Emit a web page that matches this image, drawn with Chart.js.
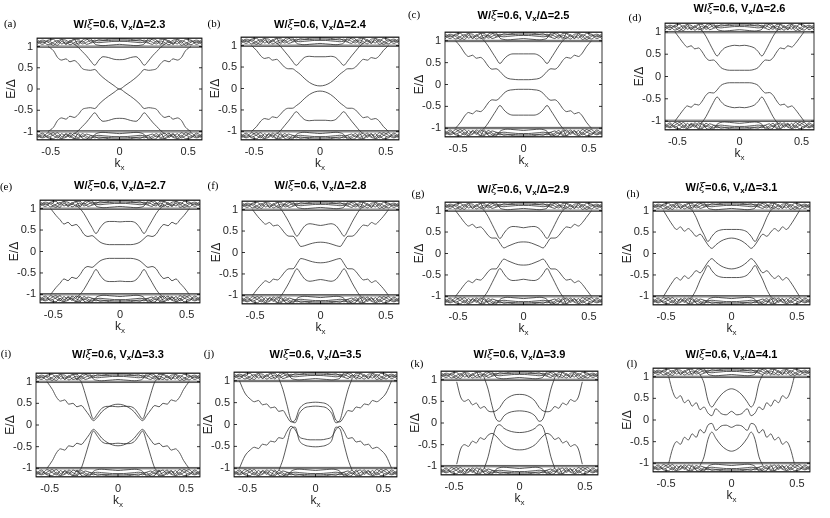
<!DOCTYPE html>
<html>
<head>
<meta charset="utf-8">
<script src="https://cdn.jsdelivr.net/npm/chart.js@4.4.1/dist/chart.umd.min.js"></script>
<style>
  body { margin: 0; background: #fff; width: 830px; height: 518px; overflow: hidden; position: relative; }
  canvas { position: absolute; }
</style>
</head>
<body>
<script>
const _ = null;

// momentum grid shared by all panels
const kVals = [-0.6,-0.56,-0.52,-0.48,-0.45,-0.42,-0.39,-0.36,-0.33,-0.3,-0.27,-0.24,-0.21,-0.18,-0.15,-0.12,-0.08,-0.04,
  0,0.04,0.08,0.12,0.15,0.18,0.21,0.24,0.27,0.3,0.33,0.36,0.39,0.42,0.45,0.48,0.52,0.56,0.6];
const kEdge = [-0.6, 0.6];
const xTicks = [-0.5, 0, 0.5];
const yTicks = [-1, -0.5, 0, 0.5, 1];

// bulk continuum (same look in every panel)
const flatUp1 = [0.98, 0.98];
const flatUp2 = [1.01, 1.01];
const flatUp3 = [1.19, 1.19];
const flatLo1 = [-0.98, -0.98];
const flatLo2 = [-1.01, -1.01];
const flatLo3 = [-1.19, -1.19];
const bulkU1 = [1.05,1.12,1.04,1.1,1.14,1.06,1.11,1.04,1.09,1.13,1.06,1.1,1.14,1.12,1.16,1.15,1.17,1.18,1.18,1.18,1.17,1.15,1.16,1.12,1.14,1.1,1.06,1.13,1.09,1.04,1.11,1.06,1.14,1.1,1.04,1.12,1.05];
const bulkU2 = [1.12,1.05,1.13,1.07,1.03,1.12,1.06,1.14,1.05,1.08,1.13,1.05,1.08,1.1,1.09,1.1,1.11,1.12,1.12,1.12,1.11,1.1,1.09,1.1,1.08,1.05,1.13,1.08,1.05,1.14,1.06,1.12,1.03,1.07,1.13,1.05,1.12];
const bulkU3 = [1.16,1.09,1.15,1.17,1.08,1.16,1.15,1.09,1.16,1.17,1.1,1.16,1.18,1.06,1.03,1.02,1.03,1.04,1.05,1.04,1.03,1.02,1.03,1.06,1.18,1.16,1.1,1.17,1.16,1.09,1.15,1.16,1.08,1.17,1.15,1.09,1.16];
const bulkU4 = [1.09,1.15,1.1,1.03,1.12,1.17,1.05,1.12,1.17,1.04,1.15,1.18,1.1,1.15,1.13,1.14,1.14,1.15,1.15,1.15,1.14,1.14,1.13,1.15,1.1,1.18,1.15,1.04,1.17,1.12,1.05,1.17,1.12,1.03,1.1,1.15,1.09];
const bulkL1 = [-1.06,-1.13,-1.03,-1.1,-1.15,-1.05,-1.12,-1.04,-1.1,-1.14,-1.05,-1.11,-1.15,-1.12,-1.16,-1.15,-1.17,-1.18,-1.18,-1.18,-1.17,-1.15,-1.16,-1.12,-1.15,-1.11,-1.05,-1.14,-1.1,-1.04,-1.12,-1.05,-1.15,-1.1,-1.03,-1.13,-1.06];
const bulkL2 = [-1.12,-1.04,-1.13,-1.08,-1.03,-1.12,-1.07,-1.14,-1.04,-1.08,-1.13,-1.06,-1.09,-1.1,-1.09,-1.1,-1.11,-1.12,-1.12,-1.12,-1.11,-1.1,-1.09,-1.1,-1.09,-1.06,-1.13,-1.08,-1.04,-1.14,-1.07,-1.12,-1.03,-1.08,-1.13,-1.04,-1.12];
const bulkL3 = [-1.16,-1.08,-1.15,-1.17,-1.09,-1.16,-1.14,-1.08,-1.16,-1.17,-1.1,-1.15,-1.18,-1.07,-1.03,-1.02,-1.03,-1.04,-1.05,-1.04,-1.03,-1.02,-1.03,-1.07,-1.18,-1.15,-1.1,-1.17,-1.16,-1.08,-1.14,-1.16,-1.09,-1.17,-1.15,-1.08,-1.16];
const bulkL4 = [-1.1,-1.15,-1.09,-1.03,-1.13,-1.17,-1.05,-1.11,-1.17,-1.04,-1.16,-1.18,-1.1,-1.15,-1.13,-1.14,-1.14,-1.15,-1.15,-1.15,-1.14,-1.14,-1.13,-1.15,-1.1,-1.18,-1.16,-1.04,-1.17,-1.11,-1.05,-1.17,-1.13,-1.03,-1.09,-1.15,-1.1];

// in-gap bands, panel by panel
const aUp1 = [_,_,1.0,0.9,0.74,0.68,0.71,0.64,0.67,0.6,0.48,0.45,0.44,0.46,0.36,0.27,0.17,0.08,0,0.08,0.17,0.27,0.36,0.46,0.44,0.45,0.48,0.6,0.67,0.64,0.71,0.68,0.74,0.9,1.0,_,_];
const aUp2 = [_,_,_,_,_,_,_,_,1.06,0.98,0.88,0.78,0.66,0.56,0.68,0.76,0.74,0.7,0.69,0.7,0.74,0.76,0.68,0.56,0.66,0.78,0.88,0.98,1.06,_,_,_,_,_,_,_,_];
const aLo1 = [_,_,-1.0,-0.9,-0.74,-0.68,-0.71,-0.64,-0.67,-0.6,-0.48,-0.45,-0.44,-0.46,-0.36,-0.27,-0.17,-0.08,0,-0.08,-0.17,-0.27,-0.36,-0.46,-0.44,-0.45,-0.48,-0.6,-0.67,-0.64,-0.71,-0.68,-0.74,-0.9,-1.0,_,_];
const aLo2 = [_,_,_,_,_,_,_,_,-1.06,-0.98,-0.88,-0.78,-0.66,-0.56,-0.68,-0.76,-0.74,-0.7,-0.69,-0.7,-0.74,-0.76,-0.68,-0.56,-0.66,-0.78,-0.88,-0.98,-1.06,_,_,_,_,_,_,_,_];

const bUp1 = [_,_,1.0,0.88,0.76,0.7,0.72,0.66,0.68,0.6,0.5,0.46,0.46,0.4,0.33,0.24,0.14,0.08,0.06,0.08,0.14,0.24,0.33,0.4,0.46,0.46,0.5,0.6,0.68,0.66,0.72,0.7,0.76,0.88,1.0,_,_];
const bUp2 = [_,_,_,_,_,_,_,_,1.06,0.98,0.87,0.76,0.64,0.54,0.63,0.72,0.75,0.74,0.74,0.74,0.75,0.72,0.63,0.54,0.64,0.76,0.87,0.98,1.06,_,_,_,_,_,_,_,_];
const bLo1 = [_,_,-1.0,-0.88,-0.76,-0.7,-0.72,-0.66,-0.68,-0.6,-0.5,-0.46,-0.46,-0.4,-0.33,-0.24,-0.14,-0.08,-0.06,-0.08,-0.14,-0.24,-0.33,-0.4,-0.46,-0.46,-0.5,-0.6,-0.68,-0.66,-0.72,-0.7,-0.76,-0.88,-1.0,_,_];
const bLo2 = [_,_,_,_,_,_,_,_,-1.06,-0.98,-0.87,-0.76,-0.64,-0.54,-0.63,-0.72,-0.75,-0.74,-0.74,-0.74,-0.75,-0.72,-0.63,-0.54,-0.64,-0.76,-0.87,-0.98,-1.06,_,_,_,_,_,_,_,_];

const cUp1 = [_,_,1.0,0.86,0.72,0.64,0.67,0.6,0.62,0.55,0.42,0.35,0.36,0.3,0.2,0.14,0.12,0.11,0.11,0.11,0.12,0.14,0.2,0.3,0.36,0.35,0.42,0.55,0.62,0.6,0.67,0.64,0.72,0.86,1.0,_,_];
const cUp2 = [_,_,_,_,_,_,_,_,1.08,1.0,0.88,0.74,0.6,0.48,0.58,0.66,0.7,0.7,0.7,0.7,0.7,0.66,0.58,0.48,0.6,0.74,0.88,1.0,1.08,_,_,_,_,_,_,_,_];
const cLo1 = [_,_,-1.0,-0.86,-0.72,-0.64,-0.67,-0.6,-0.62,-0.55,-0.42,-0.35,-0.36,-0.3,-0.2,-0.14,-0.12,-0.11,-0.11,-0.11,-0.12,-0.14,-0.2,-0.3,-0.36,-0.35,-0.42,-0.55,-0.62,-0.6,-0.67,-0.64,-0.72,-0.86,-1.0,_,_];
const cLo2 = [_,_,_,_,_,_,_,_,-1.08,-1.0,-0.88,-0.74,-0.6,-0.48,-0.58,-0.66,-0.7,-0.7,-0.7,-0.7,-0.7,-0.66,-0.58,-0.48,-0.6,-0.74,-0.88,-1.0,-1.08,_,_,_,_,_,_,_,_];

const dUp1 = [_,_,1.0,0.85,0.74,0.66,0.69,0.62,0.64,0.55,0.42,0.36,0.37,0.3,0.2,0.16,0.14,0.14,0.14,0.14,0.14,0.16,0.2,0.3,0.37,0.36,0.42,0.55,0.64,0.62,0.69,0.66,0.74,0.85,1.0,_,_];
const dUp2 = [_,_,_,_,_,_,_,_,1.08,1.02,0.9,0.74,0.58,0.46,0.56,0.64,0.68,0.7,0.69,0.7,0.68,0.64,0.56,0.46,0.58,0.74,0.9,1.02,1.08,_,_,_,_,_,_,_,_];
const dLo1 = [_,_,-1.0,-0.85,-0.74,-0.66,-0.69,-0.62,-0.64,-0.55,-0.42,-0.36,-0.37,-0.3,-0.2,-0.16,-0.14,-0.14,-0.14,-0.14,-0.14,-0.16,-0.2,-0.3,-0.37,-0.36,-0.42,-0.55,-0.64,-0.62,-0.69,-0.66,-0.74,-0.85,-1.0,_,_];
const dLo2 = [_,_,_,_,_,_,_,_,-1.08,-1.02,-0.9,-0.74,-0.58,-0.46,-0.56,-0.64,-0.68,-0.7,-0.69,-0.7,-0.68,-0.64,-0.56,-0.46,-0.58,-0.74,-0.9,-1.02,-1.08,_,_,_,_,_,_,_,_];

const eUp1 = [_,_,1.0,0.84,0.74,0.64,0.68,0.6,0.63,0.54,0.4,0.35,0.37,0.3,0.22,0.18,0.16,0.16,0.16,0.16,0.16,0.18,0.22,0.3,0.37,0.35,0.4,0.54,0.63,0.6,0.68,0.64,0.74,0.84,1.0,_,_];
const eUp2 = [_,_,_,_,_,_,_,_,1.08,1.0,0.88,0.72,0.56,0.42,0.55,0.66,0.7,0.7,0.69,0.7,0.7,0.66,0.55,0.42,0.56,0.72,0.88,1.0,1.08,_,_,_,_,_,_,_,_];
const eLo1 = [_,_,-1.0,-0.84,-0.74,-0.64,-0.68,-0.6,-0.63,-0.54,-0.4,-0.35,-0.37,-0.3,-0.22,-0.18,-0.16,-0.16,-0.16,-0.16,-0.16,-0.18,-0.22,-0.3,-0.37,-0.35,-0.4,-0.54,-0.63,-0.6,-0.68,-0.64,-0.74,-0.84,-1.0,_,_];
const eLo2 = [_,_,_,_,_,_,_,_,-1.08,-1.0,-0.88,-0.72,-0.56,-0.42,-0.55,-0.66,-0.7,-0.7,-0.69,-0.7,-0.7,-0.66,-0.55,-0.42,-0.56,-0.72,-0.88,-1.0,-1.08,_,_,_,_,_,_,_,_];

const fUp1 = [_,_,1.0,0.84,0.74,0.66,0.7,0.62,0.64,0.56,0.44,0.38,0.38,0.26,0.14,0.16,0.2,0.23,0.24,0.23,0.2,0.16,0.14,0.26,0.38,0.38,0.44,0.56,0.64,0.62,0.7,0.66,0.74,0.84,1.0,_,_];
const fUp2 = [_,_,_,_,_,_,_,_,1.08,1.0,0.86,0.7,0.52,0.38,0.5,0.62,0.67,0.65,0.63,0.65,0.67,0.62,0.5,0.38,0.52,0.7,0.86,1.0,1.08,_,_,_,_,_,_,_,_];
const fLo1 = [_,_,-1.0,-0.84,-0.74,-0.66,-0.7,-0.62,-0.64,-0.56,-0.44,-0.38,-0.38,-0.26,-0.14,-0.16,-0.2,-0.23,-0.24,-0.23,-0.2,-0.16,-0.14,-0.26,-0.38,-0.38,-0.44,-0.56,-0.64,-0.62,-0.7,-0.66,-0.74,-0.84,-1.0,_,_];
const fLo2 = [_,_,_,_,_,_,_,_,-1.08,-1.0,-0.86,-0.7,-0.52,-0.38,-0.5,-0.62,-0.67,-0.65,-0.63,-0.65,-0.67,-0.62,-0.5,-0.38,-0.52,-0.7,-0.86,-1.0,-1.08,_,_,_,_,_,_,_,_];

const gUp1 = [_,_,1.0,0.84,0.72,0.64,0.68,0.6,0.62,0.54,0.42,0.36,0.36,0.24,0.13,0.17,0.22,0.26,0.27,0.26,0.22,0.17,0.13,0.24,0.36,0.36,0.42,0.54,0.62,0.6,0.68,0.64,0.72,0.84,1.0,_,_];
const gUp2 = [_,_,_,_,_,_,_,_,1.08,1.0,0.86,0.68,0.5,0.35,0.47,0.58,0.63,0.62,0.6,0.62,0.63,0.58,0.47,0.35,0.5,0.68,0.86,1.0,1.08,_,_,_,_,_,_,_,_];
const gLo1 = [_,_,-1.0,-0.84,-0.72,-0.64,-0.68,-0.6,-0.62,-0.54,-0.42,-0.36,-0.36,-0.24,-0.13,-0.17,-0.22,-0.26,-0.27,-0.26,-0.22,-0.17,-0.13,-0.24,-0.36,-0.36,-0.42,-0.54,-0.62,-0.6,-0.68,-0.64,-0.72,-0.84,-1.0,_,_];
const gLo2 = [_,_,_,_,_,_,_,_,-1.08,-1.0,-0.86,-0.68,-0.5,-0.35,-0.47,-0.58,-0.63,-0.62,-0.6,-0.62,-0.63,-0.58,-0.47,-0.35,-0.5,-0.68,-0.86,-1.0,-1.08,_,_,_,_,_,_,_,_];

const hUp1 = [_,_,1.0,0.8,0.66,0.56,0.62,0.52,0.58,0.5,0.4,0.45,0.34,0.2,0.12,0.2,0.29,0.34,0.36,0.34,0.29,0.2,0.12,0.2,0.34,0.45,0.4,0.5,0.58,0.52,0.62,0.56,0.66,0.8,1.0,_,_];
const hUp2 = [_,_,_,_,_,_,_,_,1.08,1.0,0.84,0.62,0.44,0.28,0.4,0.5,0.55,0.56,0.56,0.56,0.55,0.5,0.4,0.28,0.44,0.62,0.84,1.0,1.08,_,_,_,_,_,_,_,_];
const hLo1 = [_,_,-1.0,-0.8,-0.66,-0.56,-0.62,-0.52,-0.58,-0.5,-0.4,-0.45,-0.34,-0.2,-0.12,-0.2,-0.29,-0.34,-0.36,-0.34,-0.29,-0.2,-0.12,-0.2,-0.34,-0.45,-0.4,-0.5,-0.58,-0.52,-0.62,-0.56,-0.66,-0.8,-1.0,_,_];
const hLo2 = [_,_,_,_,_,_,_,_,-1.08,-1.0,-0.84,-0.62,-0.44,-0.28,-0.4,-0.5,-0.55,-0.56,-0.56,-0.56,-0.55,-0.5,-0.4,-0.28,-0.44,-0.62,-0.84,-1.0,-1.08,_,_,_,_,_,_,_,_];

const iUp1 = [_,_,1.0,0.82,0.64,0.55,0.58,0.48,0.5,0.42,0.45,0.35,0.22,0.1,0.18,0.3,0.4,0.46,0.48,0.46,0.4,0.3,0.18,0.1,0.22,0.35,0.45,0.42,0.5,0.48,0.58,0.55,0.64,0.82,1.0,_,_];
const iUp2 = [_,_,_,_,_,_,_,_,_,1.08,1.0,0.72,0.4,0.14,0.26,0.38,0.43,0.43,0.42,0.43,0.43,0.38,0.26,0.14,0.4,0.72,1.0,1.08,_,_,_,_,_,_,_,_,_];
const iLo1 = [_,_,-1.0,-0.82,-0.64,-0.55,-0.58,-0.48,-0.5,-0.42,-0.45,-0.35,-0.22,-0.1,-0.18,-0.3,-0.4,-0.46,-0.48,-0.46,-0.4,-0.3,-0.18,-0.1,-0.22,-0.35,-0.45,-0.42,-0.5,-0.48,-0.58,-0.55,-0.64,-0.82,-1.0,_,_];
const iLo2 = [_,_,_,_,_,_,_,_,_,-1.08,-1.0,-0.72,-0.4,-0.14,-0.26,-0.38,-0.43,-0.43,-0.42,-0.43,-0.43,-0.38,-0.26,-0.14,-0.4,-0.72,-1.0,-1.08,_,_,_,_,_,_,_,_,_];

const jUp1 = [_,1.0,0.72,0.58,0.52,0.55,0.45,0.47,0.38,0.4,0.3,0.32,0.18,0.06,0.1,0.35,0.47,0.5,0.51,0.5,0.47,0.35,0.1,0.06,0.18,0.32,0.3,0.4,0.38,0.47,0.45,0.55,0.52,0.58,0.72,1.0,_];
const jUp2 = [_,_,_,_,_,_,_,_,_,_,1.05,0.8,0.45,0.1,0.04,0.25,0.38,0.41,0.42,0.41,0.38,0.25,0.04,0.1,0.45,0.8,1.05,_,_,_,_,_,_,_,_,_,_];
const jLo1 = [_,-1.0,-0.72,-0.58,-0.52,-0.55,-0.45,-0.47,-0.38,-0.4,-0.3,-0.32,-0.16,-0.04,-0.12,-0.28,-0.33,-0.35,-0.35,-0.35,-0.33,-0.28,-0.12,-0.04,-0.16,-0.32,-0.3,-0.4,-0.38,-0.47,-0.45,-0.55,-0.52,-0.58,-0.72,-1.0,_];
const jLo2 = [_,_,_,_,_,_,_,_,_,_,-1.05,-0.8,-0.45,-0.1,-0.06,-0.36,-0.47,-0.5,-0.51,-0.5,-0.47,-0.36,-0.06,-0.1,-0.45,-0.8,-1.05,_,_,_,_,_,_,_,_,_,_];

const kUp1 = [_,_,_,0.95,0.6,0.5,0.54,0.42,0.46,0.34,0.38,0.28,0.26,0.28,0.36,0.5,0.6,0.65,0.66,0.65,0.6,0.5,0.36,0.28,0.26,0.28,0.38,0.34,0.46,0.42,0.54,0.5,0.6,0.95,_,_,_];
const kUp2 = [_,_,_,_,_,_,_,_,_,_,1.05,0.78,0.4,0.1,0.04,0.16,0.24,0.27,0.28,0.27,0.24,0.16,0.04,0.1,0.4,0.78,1.05,_,_,_,_,_,_,_,_,_,_];
const kLo1 = [_,_,_,-0.95,-0.6,-0.5,-0.54,-0.42,-0.46,-0.34,-0.38,-0.28,-0.24,-0.3,-0.4,-0.5,-0.57,-0.61,-0.62,-0.61,-0.57,-0.5,-0.4,-0.3,-0.24,-0.28,-0.38,-0.34,-0.46,-0.42,-0.54,-0.5,-0.6,-0.95,_,_,_];
const kLo2 = [_,_,_,_,_,_,_,_,_,_,-1.05,-0.78,-0.4,-0.1,-0.04,-0.12,-0.18,-0.21,-0.22,-0.21,-0.18,-0.12,-0.04,-0.1,-0.4,-0.78,-1.05,_,_,_,_,_,_,_,_,_,_];

const lUp1 = [_,_,_,1.0,0.66,0.5,0.56,0.4,0.46,0.32,0.4,0.24,0.3,0.16,0.1,0.26,0.15,0.12,0.2,0.12,0.15,0.26,0.1,0.16,0.3,0.24,0.4,0.32,0.46,0.4,0.56,0.5,0.66,1.0,_,_,_];
const lUp2 = [_,_,_,_,_,_,_,_,_,_,_,1.05,0.85,0.45,0.3,0.42,0.58,0.68,0.72,0.68,0.58,0.42,0.3,0.45,0.85,1.05,_,_,_,_,_,_,_,_,_,_,_];
const lLo1 = [_,_,_,-1.0,-0.66,-0.5,-0.56,-0.4,-0.46,-0.32,-0.4,-0.22,-0.3,-0.12,-0.08,-0.24,-0.14,-0.12,-0.17,-0.12,-0.14,-0.24,-0.08,-0.12,-0.3,-0.22,-0.4,-0.32,-0.46,-0.4,-0.56,-0.5,-0.66,-1.0,_,_,_];
const lLo2 = [_,_,_,_,_,_,_,_,_,_,_,-1.05,-0.85,-0.45,-0.28,-0.42,-0.58,-0.68,-0.72,-0.68,-0.58,-0.42,-0.28,-0.45,-0.85,-1.05,_,_,_,_,_,_,_,_,_,_,_];

const vxLabels = ['2.3','2.4','2.5','2.6','2.7','2.8','2.9','3.1','3.3','3.5','3.9','4.1'];
const tags = ['(a)','(b)','(c)','(d)','(e)','(f)','(g)','(h)','(i)','(j)','(k)','(l)'];
const bandSets = [
  [aUp1,aUp2,aLo1,aLo2],[bUp1,bUp2,bLo1,bLo2],[cUp1,cUp2,cLo1,cLo2],[dUp1,dUp2,dLo1,dLo2],
  [eUp1,eUp2,eLo1,eLo2],[fUp1,fUp2,fLo1,fLo2],[gUp1,gUp2,gLo1,gLo2],[hUp1,hUp2,hLo1,hLo2],
  [iUp1,iUp2,iLo1,iLo2],[jUp1,jUp2,jLo1,jLo2],[kUp1,kUp2,kLo1,kLo2],[lUp1,lUp2,lLo1,lLo2]
];

// page layout: axes box [left, top, width, height], title centre y, tag centre
const layoutInfo = [
  {box:[37,38,165,102], titleY:25, tag:[10,24]},
  {box:[241,37,158,103], titleY:25, tag:[214,24]},
  {box:[445,32,157,105], titleY:16, tag:[414,15]},
  {box:[665,23,149,107], titleY:9, tag:[635,18]},
  {box:[40,200,160,103], titleY:186, tag:[6,187]},
  {box:[242,201,157,103], titleY:186, tag:[213,186]},
  {box:[445,202,157,103], titleY:190, tag:[418,194]},
  {box:[653,202,157,103], titleY:188, tag:[633,194]},
  {box:[36,373,164,104], titleY:355, tag:[6,354]},
  {box:[234,372,163,105], titleY:355, tag:[209,354]},
  {box:[441,371,157,104], titleY:355, tag:[417,364]},
  {box:[653,368,157,104], titleY:355, tag:[632,364]}
];

const ML = 42, MT = 36, MR = 8, MB = 40;
const INK = '#262626';

function drawPieces(ctx, pieces, cx, y) {
  let total = 0;
  pieces.forEach(p => { ctx.font = p.f; p.w = ctx.measureText(p.t).width; total += p.w; });
  let x = cx - total / 2;
  pieces.forEach(p => {
    ctx.font = p.f;
    ctx.fillText(p.t, x, y + (p.dy || 0));
    x += p.w;
  });
}

const panelDecor = {
  id: 'panelDecor',
  afterDraw(chart, args, o) {
    const ctx = chart.ctx, ca = chart.chartArea;
    const xs = chart.scales.x, ys = chart.scales.y;
    ctx.save();
    ctx.strokeStyle = '#000';
    ctx.lineWidth = 0.8;
    ctx.strokeRect(ca.left, ca.top, ca.right - ca.left, ca.bottom - ca.top);
    ctx.beginPath();
    xTicks.forEach(v => {
      const px = xs.getPixelForValue(v);
      ctx.moveTo(px, ca.bottom); ctx.lineTo(px, ca.bottom - 3);
      ctx.moveTo(px, ca.top); ctx.lineTo(px, ca.top + 3);
    });
    yTicks.forEach(v => {
      const py = ys.getPixelForValue(v);
      ctx.moveTo(ca.left, py); ctx.lineTo(ca.left + 3, py);
      ctx.moveTo(ca.right, py); ctx.lineTo(ca.right - 3, py);
    });
    ctx.stroke();

    ctx.fillStyle = '#000';
    ctx.textBaseline = 'middle';
    ctx.textAlign = 'left';
    const bold = 'bold 11px "Liberation Sans", Arial, sans-serif';
    drawPieces(ctx, [
      {t: 'W/', f: bold},
      {t: 'ξ', f: 'italic 11px "DejaVu Serif", serif'},
      {t: '=0.6, V', f: bold},
      {t: 'x', f: 'bold 8px "Liberation Sans", Arial, sans-serif', dy: 3},
      {t: '/Δ=' + o.vx, f: bold}
    ], (ca.left + ca.right) / 2, o.titleY);

    ctx.fillStyle = INK;
    drawPieces(ctx, [
      {t: 'k', f: '12px "Liberation Sans", Arial, sans-serif'},
      {t: 'x', f: '8px "Liberation Sans", Arial, sans-serif', dy: 4}
    ], (ca.left + ca.right) / 2, ca.bottom + 24);

    ctx.save();
    ctx.translate(ca.left - 25, (ca.top + ca.bottom) / 2);
    ctx.rotate(-Math.PI / 2);
    ctx.textAlign = 'center';
    ctx.font = '12px "Liberation Sans", Arial, sans-serif';
    ctx.fillText('E/Δ', 0, 0);
    ctx.restore();

    ctx.fillStyle = '#000';
    ctx.textAlign = 'center';
    ctx.font = '11px "Liberation Serif", "Times New Roman", serif';
    ctx.fillText(o.tag, o.tagX, o.tagY);
    ctx.restore();
  }
};

function series(xs, ys) {
  return xs.map((k, i) => ({x: k, y: ys[i]}));
}

const bulkLines = [
  [kEdge, flatUp1], [kEdge, flatUp2], [kEdge, flatUp3],
  [kEdge, flatLo1], [kEdge, flatLo2], [kEdge, flatLo3],
  [kVals, bulkU1], [kVals, bulkU2], [kVals, bulkU3], [kVals, bulkU4],
  [kVals, bulkL1], [kVals, bulkL2], [kVals, bulkL3], [kVals, bulkL4]
];

layoutInfo.forEach((info, n) => {
  const [L, T, W, H] = info.box;
  const cv = document.createElement('canvas');
  const cw = W + ML + MR, chh = H + MT + MB;
  cv.width = cw; cv.height = chh;
  cv.style.left = (L - ML) + 'px';
  cv.style.top = (T - MT) + 'px';
  cv.style.width = cw + 'px';
  cv.style.height = chh + 'px';
  document.body.appendChild(cv);

  const datasets = [];
  bulkLines.forEach(([xs, ys]) => datasets.push({data: series(xs, ys)}));
  bandSets[n].forEach(arr => datasets.push({data: series(kVals, arr)}));
  datasets.forEach(d => {
    d.borderColor = '#303030';
    d.borderWidth = 0.8;
    d.pointRadius = 0;
    d.fill = false;
    d.cubicInterpolationMode = 'monotone';
  });

  new Chart(cv, {
    type: 'line',
    data: {datasets: datasets},
    plugins: [panelDecor],
    options: {
      responsive: false,
      animation: false,
      devicePixelRatio: 1,
      layout: {padding: {top: MT, right: MR, left: 0, bottom: 0}},
      plugins: {
        legend: {display: false},
        tooltip: {enabled: false},
        panelDecor: {
          vx: vxLabels[n], tag: tags[n],
          titleY: info.titleY - (T - MT),
          tagX: info.tag[0] - (L - ML), tagY: info.tag[1] - (T - MT)
        }
      },
      scales: {
        x: {
          type: 'linear', min: -0.6, max: 0.6,
          grid: {display: false, drawTicks: false},
          border: {display: false},
          afterBuildTicks: s => { s.ticks = xTicks.map(v => ({value: v})); },
          afterFit: s => { s.height = MB; },
          ticks: {padding: 5, color: INK, maxRotation: 0, autoSkip: false,
                  font: {family: '"Liberation Sans", Arial, sans-serif', size: 11},
                  callback: v => String(v)}
        },
        y: {
          type: 'linear', min: -1.2, max: 1.2,
          grid: {display: false, drawTicks: false},
          border: {display: false},
          afterBuildTicks: s => { s.ticks = yTicks.map(v => ({value: v})); },
          afterFit: s => { s.width = ML; },
          ticks: {padding: 4, color: INK, autoSkip: false,
                  font: {family: '"Liberation Sans", Arial, sans-serif', size: 11},
                  callback: v => String(v)}
        }
      }
    }
  });
});
</script>
</body>
</html>
